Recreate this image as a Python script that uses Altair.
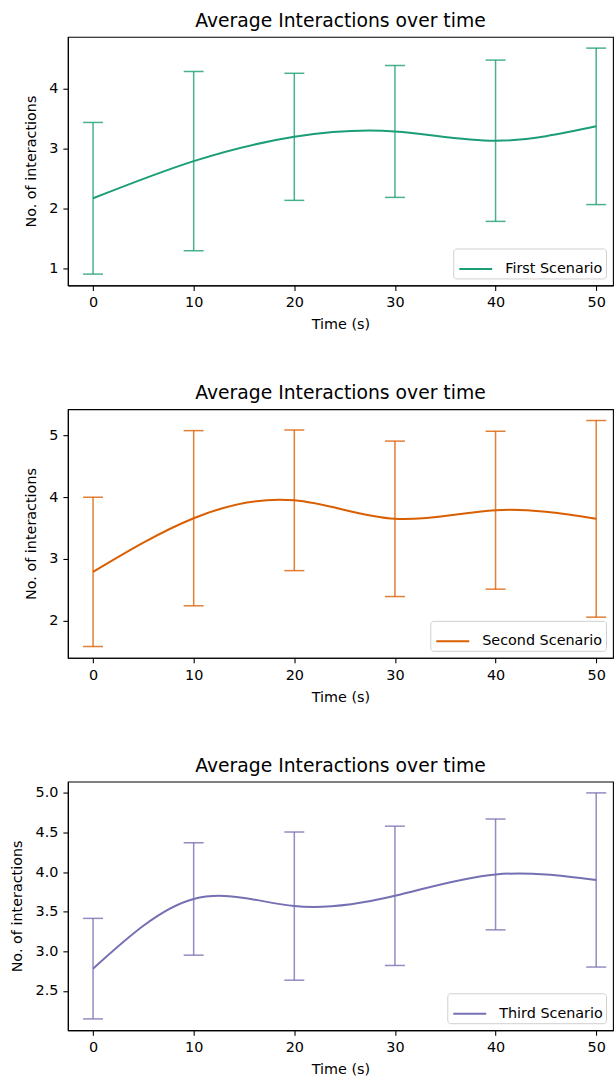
import altair as alt
import pandas as pd

# ---- data ----
times = [0, 10, 20, 30, 40, 50]

first_mean = [2.175, 2.795, 3.20, 3.29, 3.135, 3.375]
first_err = [1.265, 1.495, 1.06, 1.10, 1.345, 1.305]

second_mean = [2.79, 3.66, 3.95, 3.65, 3.79, 3.65]
second_err = [1.21, 1.42, 1.14, 1.26, 1.28, 1.594]

third_mean = [2.78, 3.66, 3.57, 3.70, 3.97, 3.90]
third_err = [0.635, 0.71, 0.936, 0.88, 0.70, 1.10]

names = ["First Scenario", "Second Scenario", "Third Scenario"]
colors = ["#1b9e77", "#d95f02", "#7570b3"]
y_ticks = [[1, 2, 3, 4], [2, 3, 4, 5], [2.5, 3.0, 3.5, 4.0, 4.5, 5.0]]
y_formats = ["d", "d", ".1f"]
legend_x = [386, 363, 380]

FONT = "DejaVu Sans"
TITLE = "Average Interactions over time"


def panel(name, color, means, errs, ticks, fmt, lx):
    df = pd.DataFrame({"time": times, "mean": means, "err": errs})
    df["lower"] = df["mean"] - df["err"]
    df["upper"] = df["mean"] + df["err"]
    df["scenario"] = name
    lo, hi = df["lower"].min(), df["upper"].max()
    m = 0.05 * (hi - lo)
    yscale = alt.Scale(domain=[lo - m, hi + m], nice=False, zero=False)
    xscale = alt.Scale(domain=[-2.5, 51.67], nice=False, zero=False)
    yaxis = alt.Axis(values=ticks, format=fmt, title="No. of interactions")
    xaxis = alt.Axis(values=times, title="Time (s)")

    base = alt.Chart(df)
    line = base.mark_line(interpolate="natural", strokeWidth=2).encode(
        x=alt.X("time:Q", scale=xscale, axis=xaxis),
        y=alt.Y("mean:Q", scale=yscale, axis=yaxis),
        color=alt.Color(
            "scenario:N",
            scale=alt.Scale(domain=[name], range=[color]),
            legend=alt.Legend(
                title=None, orient="none", legendX=lx, legendY=212,
                symbolType="stroke", symbolSize=1089, symbolStrokeWidth=2,
                symbolOffset=2,
                labelFontSize=14.4, labelFont=FONT, labelColor="black",
                labelOffset=12, padding=3, strokeColor="#d0d0d0",
                fillColor="white", cornerRadius=3,
            ),
        ),
    )
    rules = base.mark_rule(color=color, opacity=0.8, strokeWidth=1.5).encode(
        x=alt.X("time:Q", scale=xscale, axis=xaxis),
        y=alt.Y("lower:Q", scale=yscale, axis=yaxis),
        y2="upper:Q",
    )
    cap_lo = base.mark_tick(orient="horizontal", size=20, thickness=1.5,
                            color=color, opacity=0.8).encode(
        x=alt.X("time:Q", scale=xscale, axis=xaxis),
        y=alt.Y("lower:Q", scale=yscale, axis=yaxis),
    )
    cap_hi = base.mark_tick(orient="horizontal", size=20, thickness=1.5,
                            color=color, opacity=0.8).encode(
        x=alt.X("time:Q", scale=xscale, axis=xaxis),
        y=alt.Y("upper:Q", scale=yscale, axis=yaxis),
    )
    return alt.layer(rules, cap_lo, cap_hi, line).properties(
        width=546, height=249,
        title=alt.TitleParams(TITLE, fontSize=18.8, font=FONT,
                              fontWeight="normal", anchor="middle",
                              offset=-9, baseline="alphabetic", color="black"),
    )


panels = [
    panel(names[0], colors[0], first_mean, first_err, y_ticks[0], y_formats[0], legend_x[0]),
    panel(names[1], colors[1], second_mean, second_err, y_ticks[1], y_formats[1], legend_x[1]),
    panel(names[2], colors[2], third_mean, third_err, y_ticks[2], y_formats[2], legend_x[2]),
]

chart = alt.vconcat(*panels, spacing=51).resolve_scale(
    x="independent", y="independent", color="independent"
).properties(
    padding={"left": 9, "top": 10, "right": 0, "bottom": 0},
    background="white",
).configure_view(stroke="black", strokeWidth=1.1).configure_axis(
    grid=False, labelFont=FONT, titleFont=FONT, labelFontSize=14.4,
    titleFontSize=14.4, titleFontWeight="normal", labelColor="black",
    titleColor="black", tickColor="black", domainColor="black",
    tickSize=5, domainWidth=1.1, tickWidth=1.1,
).configure_axisX(
    labelPadding=5.5, titlePadding=8.5,
).configure_axisY(
    labelPadding=5, titlePadding=10.5,
)

chart.save("out.html", embed_options={"renderer": "svg", "actions": False})
